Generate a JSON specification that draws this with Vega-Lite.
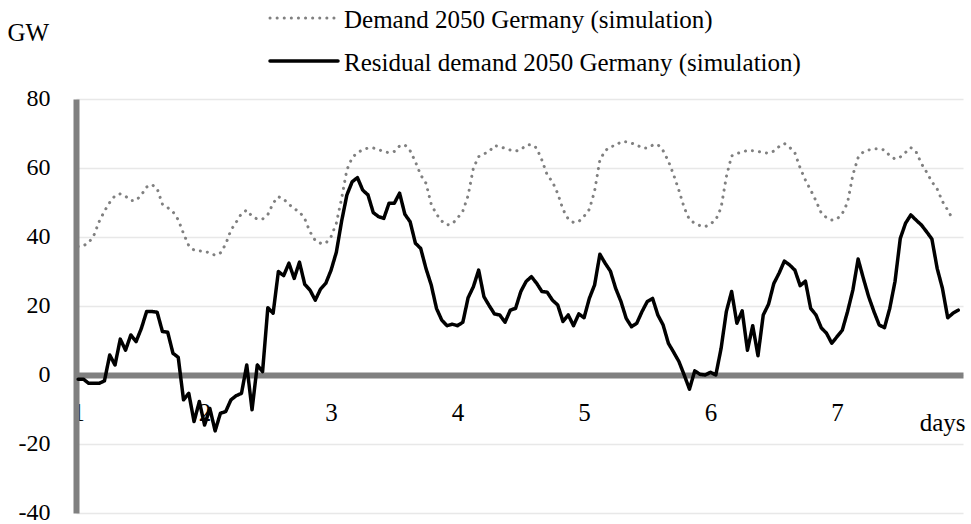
{
  "$schema": "https://vega.github.io/schema/vega-lite/v6.json",
  "width": 887,
  "height": 414,
  "autosize": {"type": "none"},
  "padding": {"left": 76, "top": 99, "right": 8, "bottom": 11},
  "background": "white",
  "config": {"font": "Liberation Serif", "view": {"stroke": null}},
  "data": {"values": [
    {"h":0,"s":"D","v":37.2},{"h":1,"s":"D","v":37.5},{"h":2,"s":"D","v":38.3},{"h":3,"s":"D","v":40.5},{"h":4,"s":"D","v":44.5},{"h":5,"s":"D","v":47.5},{"h":6,"s":"D","v":50.0},{"h":7,"s":"D","v":52.0},{"h":8,"s":"D","v":52.5},{"h":9,"s":"D","v":51.8},{"h":10,"s":"D","v":50.6},{"h":11,"s":"D","v":50.6},{"h":12,"s":"D","v":52.2},{"h":13,"s":"D","v":54.5},{"h":14,"s":"D","v":55.2},{"h":15,"s":"D","v":54.0},{"h":16,"s":"D","v":49.5},{"h":17,"s":"D","v":48.5},{"h":18,"s":"D","v":47.3},{"h":19,"s":"D","v":45.0},{"h":20,"s":"D","v":41.0},{"h":21,"s":"D","v":37.5},{"h":22,"s":"D","v":36.2},{"h":23,"s":"D","v":36.0},
    {"h":24,"s":"D","v":35.8},{"h":25,"s":"D","v":35.4},{"h":26,"s":"D","v":34.7},{"h":27,"s":"D","v":35.4},{"h":28,"s":"D","v":37.9},{"h":29,"s":"D","v":42.0},{"h":30,"s":"D","v":44.3},{"h":31,"s":"D","v":46.8},{"h":32,"s":"D","v":47.8},{"h":33,"s":"D","v":46.0},{"h":34,"s":"D","v":45.2},{"h":35,"s":"D","v":45.2},{"h":36,"s":"D","v":46.5},{"h":37,"s":"D","v":49.8},{"h":38,"s":"D","v":51.7},{"h":39,"s":"D","v":51.0},{"h":40,"s":"D","v":49.5},{"h":41,"s":"D","v":48.2},{"h":42,"s":"D","v":47.3},{"h":43,"s":"D","v":45.3},{"h":44,"s":"D","v":41.5},{"h":45,"s":"D","v":39.0},{"h":46,"s":"D","v":38.2},{"h":47,"s":"D","v":38.2},
    {"h":48,"s":"D","v":40.1},{"h":49,"s":"D","v":44.0},{"h":50,"s":"D","v":51.2},{"h":51,"s":"D","v":59.5},{"h":52,"s":"D","v":63.0},{"h":53,"s":"D","v":64.5},{"h":54,"s":"D","v":65.2},{"h":55,"s":"D","v":65.8},{"h":56,"s":"D","v":65.8},{"h":57,"s":"D","v":65.3},{"h":58,"s":"D","v":64.8},{"h":59,"s":"D","v":64.4},{"h":60,"s":"D","v":64.8},{"h":61,"s":"D","v":66.4},{"h":62,"s":"D","v":66.7},{"h":63,"s":"D","v":65.0},{"h":64,"s":"D","v":61.8},{"h":65,"s":"D","v":58.0},{"h":66,"s":"D","v":55.6},{"h":67,"s":"D","v":49.5},{"h":68,"s":"D","v":46.6},{"h":69,"s":"D","v":44.6},{"h":70,"s":"D","v":43.5},{"h":71,"s":"D","v":43.8},
    {"h":72,"s":"D","v":45.5},{"h":73,"s":"D","v":47.5},{"h":74,"s":"D","v":52.0},{"h":75,"s":"D","v":60.0},{"h":76,"s":"D","v":63.3},{"h":77,"s":"D","v":64.1},{"h":78,"s":"D","v":64.8},{"h":79,"s":"D","v":66.5},{"h":80,"s":"D","v":66.2},{"h":81,"s":"D","v":65.7},{"h":82,"s":"D","v":65.2},{"h":83,"s":"D","v":64.9},{"h":84,"s":"D","v":65.3},{"h":85,"s":"D","v":66.6},{"h":86,"s":"D","v":66.8},{"h":87,"s":"D","v":65.8},{"h":88,"s":"D","v":62.3},{"h":89,"s":"D","v":58.0},{"h":90,"s":"D","v":56.0},{"h":91,"s":"D","v":52.6},{"h":92,"s":"D","v":48.0},{"h":93,"s":"D","v":45.2},{"h":94,"s":"D","v":44.2},{"h":95,"s":"D","v":44.5},
    {"h":96,"s":"D","v":46.0},{"h":97,"s":"D","v":48.0},{"h":98,"s":"D","v":53.3},{"h":99,"s":"D","v":62.3},{"h":100,"s":"D","v":65.0},{"h":101,"s":"D","v":66.2},{"h":102,"s":"D","v":66.5},{"h":103,"s":"D","v":67.6},{"h":104,"s":"D","v":67.6},{"h":105,"s":"D","v":67.2},{"h":106,"s":"D","v":66.7},{"h":107,"s":"D","v":65.8},{"h":108,"s":"D","v":65.8},{"h":109,"s":"D","v":66.6},{"h":110,"s":"D","v":66.8},{"h":111,"s":"D","v":65.0},{"h":112,"s":"D","v":62.0},{"h":113,"s":"D","v":58.0},{"h":114,"s":"D","v":53.5},{"h":115,"s":"D","v":48.5},{"h":116,"s":"D","v":45.0},{"h":117,"s":"D","v":44.0},{"h":118,"s":"D","v":43.3},{"h":119,"s":"D","v":43.0},
    {"h":120,"s":"D","v":43.8},{"h":121,"s":"D","v":45.0},{"h":122,"s":"D","v":48.5},{"h":123,"s":"D","v":57.5},{"h":124,"s":"D","v":63.5},{"h":125,"s":"D","v":64.2},{"h":126,"s":"D","v":64.6},{"h":127,"s":"D","v":65.1},{"h":128,"s":"D","v":65.0},{"h":129,"s":"D","v":64.8},{"h":130,"s":"D","v":64.5},{"h":131,"s":"D","v":64.3},{"h":132,"s":"D","v":64.9},{"h":133,"s":"D","v":66.2},{"h":134,"s":"D","v":67.1},{"h":135,"s":"D","v":66.0},{"h":136,"s":"D","v":64.4},{"h":137,"s":"D","v":60.0},{"h":138,"s":"D","v":56.5},{"h":139,"s":"D","v":53.6},{"h":140,"s":"D","v":50.5},{"h":141,"s":"D","v":47.0},{"h":142,"s":"D","v":45.6},{"h":143,"s":"D","v":44.9},
    {"h":144,"s":"D","v":45.2},{"h":145,"s":"D","v":46.8},{"h":146,"s":"D","v":50.0},{"h":147,"s":"D","v":58.0},{"h":148,"s":"D","v":63.0},{"h":149,"s":"D","v":64.7},{"h":150,"s":"D","v":65.2},{"h":151,"s":"D","v":65.6},{"h":152,"s":"D","v":65.6},{"h":153,"s":"D","v":65.2},{"h":154,"s":"D","v":63.6},{"h":155,"s":"D","v":62.6},{"h":156,"s":"D","v":63.2},{"h":157,"s":"D","v":64.5},{"h":158,"s":"D","v":65.9},{"h":159,"s":"D","v":64.7},{"h":160,"s":"D","v":61.3},{"h":161,"s":"D","v":58.8},{"h":162,"s":"D","v":56.0},{"h":163,"s":"D","v":53.9},{"h":164,"s":"D","v":50.3},{"h":165,"s":"D","v":47.8},{"h":166,"s":"D","v":45.0},
    {"h":0,"s":"R","v":-1.2},{"h":1,"s":"R","v":-1.2},{"h":2,"s":"R","v":-2.4},{"h":3,"s":"R","v":-2.4},{"h":4,"s":"R","v":-2.4},{"h":5,"s":"R","v":-1.7},{"h":6,"s":"R","v":5.8},{"h":7,"s":"R","v":2.9},{"h":8,"s":"R","v":10.4},{"h":9,"s":"R","v":7.2},{"h":10,"s":"R","v":11.6},{"h":11,"s":"R","v":9.7},{"h":12,"s":"R","v":13.5},{"h":13,"s":"R","v":18.4},{"h":14,"s":"R","v":18.4},{"h":15,"s":"R","v":18.2},{"h":16,"s":"R","v":12.6},{"h":17,"s":"R","v":12.4},{"h":18,"s":"R","v":6.3},{"h":19,"s":"R","v":5.1},{"h":20,"s":"R","v":-7.2},{"h":21,"s":"R","v":-5.3},{"h":22,"s":"R","v":-13.5},{"h":23,"s":"R","v":-7.7},
    {"h":24,"s":"R","v":-14.5},{"h":25,"s":"R","v":-9.7},{"h":26,"s":"R","v":-16.2},{"h":27,"s":"R","v":-11.1},{"h":28,"s":"R","v":-10.6},{"h":29,"s":"R","v":-7.2},{"h":30,"s":"R","v":-6.0},{"h":31,"s":"R","v":-5.3},{"h":32,"s":"R","v":2.9},{"h":33,"s":"R","v":-10.1},{"h":34,"s":"R","v":2.9},{"h":35,"s":"R","v":1.0},{"h":36,"s":"R","v":19.5},{"h":37,"s":"R","v":17.9},{"h":38,"s":"R","v":30.0},{"h":39,"s":"R","v":28.8},{"h":40,"s":"R","v":32.4},{"h":41,"s":"R","v":28.0},{"h":42,"s":"R","v":32.7},{"h":43,"s":"R","v":26.3},{"h":44,"s":"R","v":24.6},{"h":45,"s":"R","v":21.7},{"h":46,"s":"R","v":24.9},{"h":47,"s":"R","v":26.6},
    {"h":48,"s":"R","v":30.4},{"h":49,"s":"R","v":35.6},{"h":50,"s":"R","v":44.6},{"h":51,"s":"R","v":52.2},{"h":52,"s":"R","v":56.0},{"h":53,"s":"R","v":57.2},{"h":54,"s":"R","v":53.6},{"h":55,"s":"R","v":52.2},{"h":56,"s":"R","v":47.1},{"h":57,"s":"R","v":45.9},{"h":58,"s":"R","v":45.4},{"h":59,"s":"R","v":49.8},{"h":60,"s":"R","v":49.8},{"h":61,"s":"R","v":52.7},{"h":62,"s":"R","v":46.6},{"h":63,"s":"R","v":44.4},{"h":64,"s":"R","v":38.2},{"h":65,"s":"R","v":36.7},{"h":66,"s":"R","v":30.9},{"h":67,"s":"R","v":26.1},{"h":68,"s":"R","v":19.3},{"h":69,"s":"R","v":15.9},{"h":70,"s":"R","v":14.3},{"h":71,"s":"R","v":14.7},
    {"h":72,"s":"R","v":14.3},{"h":73,"s":"R","v":15.3},{"h":74,"s":"R","v":22.4},{"h":75,"s":"R","v":25.6},{"h":76,"s":"R","v":30.4},{"h":77,"s":"R","v":22.7},{"h":78,"s":"R","v":20.1},{"h":79,"s":"R","v":17.7},{"h":80,"s":"R","v":17.4},{"h":81,"s":"R","v":15.3},{"h":82,"s":"R","v":18.8},{"h":83,"s":"R","v":19.3},{"h":84,"s":"R","v":24.2},{"h":85,"s":"R","v":27.1},{"h":86,"s":"R","v":28.5},{"h":87,"s":"R","v":26.6},{"h":88,"s":"R","v":24.2},{"h":89,"s":"R","v":24.0},{"h":90,"s":"R","v":21.7},{"h":91,"s":"R","v":20.3},{"h":92,"s":"R","v":15.5},{"h":93,"s":"R","v":17.4},{"h":94,"s":"R","v":14.3},{"h":95,"s":"R","v":17.7},
    {"h":96,"s":"R","v":16.6},{"h":97,"s":"R","v":22.2},{"h":98,"s":"R","v":26.1},{"h":99,"s":"R","v":35.0},{"h":100,"s":"R","v":32.4},{"h":101,"s":"R","v":30.1},{"h":102,"s":"R","v":25.1},{"h":103,"s":"R","v":21.3},{"h":104,"s":"R","v":16.4},{"h":105,"s":"R","v":14.0},{"h":106,"s":"R","v":15.0},{"h":107,"s":"R","v":18.4},{"h":108,"s":"R","v":21.3},{"h":109,"s":"R","v":22.2},{"h":110,"s":"R","v":17.4},{"h":111,"s":"R","v":14.5},{"h":112,"s":"R","v":9.2},{"h":113,"s":"R","v":6.6},{"h":114,"s":"R","v":3.9},{"h":115,"s":"R","v":0.0},{"h":116,"s":"R","v":-4.1},{"h":117,"s":"R","v":1.2},{"h":118,"s":"R","v":0.2},{"h":119,"s":"R","v":0.0},
    {"h":120,"s":"R","v":0.8},{"h":121,"s":"R","v":0.0},{"h":122,"s":"R","v":7.7},{"h":123,"s":"R","v":18.4},{"h":124,"s":"R","v":24.2},{"h":125,"s":"R","v":15.0},{"h":126,"s":"R","v":18.6},{"h":127,"s":"R","v":7.2},{"h":128,"s":"R","v":14.3},{"h":129,"s":"R","v":5.6},{"h":130,"s":"R","v":17.4},{"h":131,"s":"R","v":20.5},{"h":132,"s":"R","v":26.5},{"h":133,"s":"R","v":29.5},{"h":134,"s":"R","v":33.0},{"h":135,"s":"R","v":31.9},{"h":136,"s":"R","v":30.4},{"h":137,"s":"R","v":25.9},{"h":138,"s":"R","v":27.2},{"h":139,"s":"R","v":19.3},{"h":140,"s":"R","v":17.4},{"h":141,"s":"R","v":13.7},{"h":142,"s":"R","v":12.1},{"h":143,"s":"R","v":9.2},
    {"h":144,"s":"R","v":11.1},{"h":145,"s":"R","v":13.0},{"h":146,"s":"R","v":18.4},{"h":147,"s":"R","v":24.6},{"h":148,"s":"R","v":33.6},{"h":149,"s":"R","v":28.0},{"h":150,"s":"R","v":22.7},{"h":151,"s":"R","v":18.4},{"h":152,"s":"R","v":14.5},{"h":153,"s":"R","v":13.7},{"h":154,"s":"R","v":19.3},{"h":155,"s":"R","v":27.1},{"h":156,"s":"R","v":39.6},{"h":157,"s":"R","v":44.0},{"h":158,"s":"R","v":46.4},{"h":159,"s":"R","v":44.9},{"h":160,"s":"R","v":43.5},{"h":161,"s":"R","v":41.5},{"h":162,"s":"R","v":39.4},{"h":163,"s":"R","v":30.9},{"h":164,"s":"R","v":25.1},{"h":165,"s":"R","v":16.6},{"h":166,"s":"R","v":17.9},{"h":167,"s":"R","v":18.8}
  ]},
  "mark": {"type": "line", "strokeCap": "round", "strokeJoin": "round", "clip": false},
  "encoding": {
    "x": {
      "field": "h", "type": "quantitative",
      "scale": {"domain": [-0.4, 167.9], "nice": false, "zero": false},
      "axis": {
        "values": [0, 24, 48, 72, 96, 120, 144],
        "labelExpr": "datum.value / 24 + 1",
        "orient": "bottom", "offset": -138,
        "domainColor": "#808080", "domainWidth": 6,
        "ticks": false, "tickSize": 0, "grid": false,
        "labelFontSize": 25, "labelColor": "#000000", "labelPadding": 45, "labelBaseline": "alphabetic",
        "title": "days", "titleFontSize": 25, "titleFontWeight": "normal", "titleColor": "#000000",
        "titleAnchor": "end", "titleAlign": "right", "titleX": 889, "titleY": 55, "titleBaseline": "alphabetic"
      }
    },
    "y": {
      "field": "v", "type": "quantitative",
      "scale": {"domain": [-40, 80], "nice": false},
      "axis": {
        "values": [-40, -20, 0, 20, 40, 60, 80],
        "labelExpr": "'' + datum.value",
        "domainColor": "#808080", "domainWidth": 6,
        "ticks": false, "tickSize": 0, "grid": true, "gridColor": "#e8e8e8", "gridWidth": 1.5,
        "labelFontSize": 24, "labelPadding": 26, "labelColor": "#000000", "labelOffset": -1,
        "title": "GW", "titleAngle": 0, "titleAlign": "left", "titleBaseline": "middle",
        "titleX": -69, "titleY": -67, "titleFontSize": 25, "titleFontWeight": "normal", "titleColor": "#000000"
      }
    },
    "color": {
      "field": "s", "type": "nominal",
      "scale": {"domain": ["D", "R"], "range": ["#808080", "#000000"]},
      "legend": {
        "orient": "none", "legendX": 192, "legendY": -107, "title": null, "direction": "vertical",
        "symbolType": "stroke", "symbolSize": 4624, "labelFontSize": 25, "labelOffset": 4, "labelColor": "#000000", "labelLimit": 0,
        "labelBaseline": "alphabetic",
        "labelExpr": "datum.value == 'D' ? 'Demand 2050 Germany (simulation)' : 'Residual demand 2050 Germany (simulation)'",
        "rowPadding": 2,
        "encode": {"symbols": {"update": {"strokeCap": {"value": "round"}, "y": {"value": 26}}}}
      }
    },
    "strokeDash": {
      "field": "s", "type": "nominal",
      "scale": {"domain": ["D", "R"], "range": [[0.1, 7], [1, 0]]},
      "legend": {
        "orient": "none", "legendX": 192, "legendY": -107, "title": null, "direction": "vertical",
        "symbolType": "stroke", "symbolSize": 4624, "labelFontSize": 25, "labelOffset": 4, "labelColor": "#000000", "labelLimit": 0,
        "labelBaseline": "alphabetic",
        "labelExpr": "datum.value == 'D' ? 'Demand 2050 Germany (simulation)' : 'Residual demand 2050 Germany (simulation)'",
        "rowPadding": 2,
        "encode": {"symbols": {"update": {"strokeCap": {"value": "round"}, "y": {"value": 26}}}}
      }
    },
    "strokeWidth": {
      "field": "s", "type": "ordinal",
      "scale": {"domain": ["D", "R"], "range": [3, 3.5]},
      "legend": {
        "orient": "none", "legendX": 192, "legendY": -107, "title": null, "direction": "vertical",
        "symbolType": "stroke", "symbolSize": 4624, "labelFontSize": 25, "labelOffset": 4, "labelColor": "#000000", "labelLimit": 0,
        "labelBaseline": "alphabetic",
        "labelExpr": "datum.value == 'D' ? 'Demand 2050 Germany (simulation)' : 'Residual demand 2050 Germany (simulation)'",
        "rowPadding": 2,
        "encode": {"symbols": {"update": {"strokeCap": {"value": "round"}, "y": {"value": 26}}}}
      }
    }
  }
}
